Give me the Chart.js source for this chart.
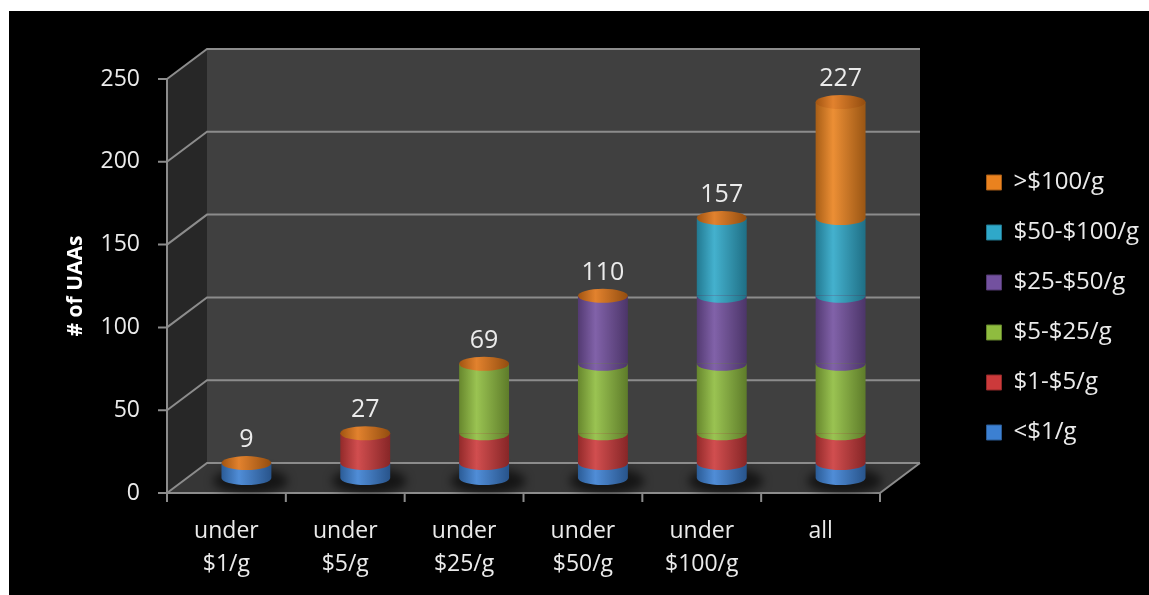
<!DOCTYPE html>
<html>
<head>
<meta charset="utf-8">
<script src="https://cdn.jsdelivr.net/npm/chart.js@4.4.0/dist/chart.umd.min.js"></script>
<style>
    html, body { margin: 0; background: #fff; }
    #wrap { position: absolute; left: 9px; top: 11px; width: 1140px; height: 584px; background: #000; }
</style>
</head>
<body>
<div id="wrap"><canvas id="uaa-chart"></canvas></div>
<script>
const categories = [['under', '$1/g'], ['under', '$5/g'], ['under', '$25/g'], ['under', '$50/g'], ['under', '$100/g'], 'all'];
const seriesNames = ['<$1/g', '$1-$5/g', '$5-$25/g', '$25-$50/g', '$50-$100/g', '>$100/g'];
const under1 = [9, 9, 9, 9, 9, 9];
const from1to5 = [0, 18, 18, 18, 18, 18];
const from5to25 = [0, 0, 42, 42, 42, 42];
const from25to50 = [0, 0, 0, 41, 41, 41];
const from50to100 = [0, 0, 0, 0, 47, 47];
const over100 = [0, 0, 0, 0, 0, 70];
const yTicks = [0, 50, 100, 150, 200, 250];
const seriesColors = ['#3c80d2', '#cc3a3b', '#8fbc3f', '#73519f', '#2fa8c9', '#ea821f'];

const seriesData = [under1, from1to5, from5to25, from25to50, from50to100, over100];
const totals = categories.map((c, i) => seriesData.reduce((s, d) => s + d[i], 0));

const FONT = "'Open Sans', sans-serif";
const TEXT = '#ebebeb';
const BAR_FRACTION = 0.42;
const DX = 40, DY = -30;        // depth of the 3d box
const RY = 7;                   // ellipse height of the cylinders
const PAD = { left: 44, right: 7, top: 9 };
const PLOT = { left: 158, right: 871, top: 68, bottom: 482 };

function shade(hex, f) {
    const n = parseInt(hex.slice(1), 16);
    const ch = [n >> 16, (n >> 8) & 255, n & 255].map(c => {
        const v = f <= 1 ? c * f : c + (255 - c) * (f - 1);
        return Math.round(Math.max(0, Math.min(255, v)));
    });
    return `rgb(${ch.join(',')})`;
}

function cylinderFill(ctx, cx, w, color) {
    const g = ctx.createLinearGradient(cx - w / 2, 0, cx + w / 2, 0);
    g.addColorStop(0, shade(color, 0.72));
    g.addColorStop(0.35, shade(color, 1.1));
    g.addColorStop(1, shade(color, 0.66));
    return g;
}

function poly(ctx, pts) {
    ctx.beginPath();
    pts.forEach(([x, y], i) => i ? ctx.lineTo(x, y) : ctx.moveTo(x, y));
    ctx.closePath();
    ctx.fill();
}

const cylinders = {
    id: 'cylinders',
    beforeDatasetsDraw(chart) {
        const { ctx } = chart;
        const xs = chart.scales.x, ys = chart.scales.y;
        const x0 = xs.left, x1 = xs.right;
        const yTop = ys.getPixelForValue(yTicks[yTicks.length - 1]);
        const yBase = ys.getPixelForValue(0);

        ctx.save();
        // walls and floor
        ctx.fillStyle = '#272727';
        poly(ctx, [[x0, yBase], [x0 + DX, yBase + DY], [x0 + DX, yTop + DY], [x0, yTop]]);
        ctx.fillStyle = '#404040';
        ctx.fillRect(x0 + DX, yTop + DY, x1 - x0, yBase - yTop);
        ctx.fillStyle = '#363636';
        poly(ctx, [[x0, yBase], [x1, yBase], [x1 + DX, yBase + DY], [x0 + DX, yBase + DY]]);

        ctx.strokeStyle = '#8c8c8c';
        ctx.lineWidth = 2;
        ctx.beginPath();
        yTicks.forEach(v => {
            const y = ys.getPixelForValue(v);
            ctx.moveTo(x0, y);
            ctx.lineTo(x0 + DX, y + DY);
            ctx.lineTo(x1 + DX, y + DY);
            ctx.moveTo(x0 - 9, y);
            ctx.lineTo(x0, y);
        });
        ctx.moveTo(x0, yTop);
        ctx.lineTo(x0, yBase);
        ctx.lineTo(x1, yBase);
        ctx.lineTo(x1 + DX, yBase + DY);
        for (let k = 0; k <= categories.length; k++) {
            const x = x0 + k * (x1 - x0) / categories.length;
            ctx.moveTo(x, yBase);
            ctx.lineTo(x, yBase + 9);
        }
        ctx.stroke();
        ctx.restore();

        // bars stand half way into the box
        ctx.save();
        ctx.translate(DX / 2, DY / 2);
        const meta = chart.getDatasetMeta(0);
        ctx.save();
        ctx.filter = 'blur(5px)';
        ctx.fillStyle = 'rgba(0,0,0,0.6)';
        meta.data.forEach(bar => {
            const { x, base, width } = bar.getProps(['x', 'base', 'width'], true);
            ctx.beginPath();
            ctx.ellipse(x + 4, base + 3, width * 0.75, 13, 0, 0, Math.PI * 2);
            ctx.fill();
        });
        ctx.restore();
    },
    afterDatasetsDraw(chart) {
        const { ctx } = chart;
        seriesData.forEach((d, di) => {
            chart.getDatasetMeta(di).data.forEach(bar => {
                const { x, y, base, width } = bar.getProps(['x', 'y', 'base', 'width'], true);
                if (Math.abs(base - y) < 0.5) return;
                ctx.fillStyle = cylinderFill(ctx, x, width, seriesColors[di]);
                ctx.beginPath();
                ctx.ellipse(x, base, width / 2, RY, 0, 0, Math.PI);
                ctx.fill();
            });
        });
        const topMeta = chart.getDatasetMeta(seriesData.length - 1);
        ctx.font = `25px ${FONT}`;
        ctx.textAlign = 'center';
        ctx.textBaseline = 'middle';
        topMeta.data.forEach((bar, i) => {
            const { x, y, width } = bar.getProps(['x', 'y', 'width'], true);
            ctx.fillStyle = cylinderFill(ctx, x, width, '#df7417');
            ctx.beginPath();
            ctx.ellipse(x, y, width / 2, RY, 0, 0, Math.PI * 2);
            ctx.fill();
            ctx.fillStyle = TEXT;
            ctx.fillText(String(totals[i]), x, y - 23);
        });
        ctx.restore();
    }
};

const blankAxis = {
    type: 'linear',
    display: true,
    grid: { display: false },
    border: { display: false },
    ticks: { display: false }
};

new Chart(document.getElementById('uaa-chart'), {
    type: 'bar',
    data: {
        labels: categories,
        datasets: seriesData.map((d, i) => ({
            label: seriesNames[i],
            data: d,
            xAxisID: 'x',
            yAxisID: 'y',
            borderWidth: 0,
            barPercentage: BAR_FRACTION,
            categoryPercentage: 1,
            backgroundColor: (c) => {
                const xs = c.chart.scales.x;
                if (c.type !== 'data' || !xs || !c.chart.chartArea) return seriesColors[i];
                const w = xs.width / categories.length * BAR_FRACTION;
                return cylinderFill(c.chart.ctx, xs.getPixelForValue(c.dataIndex), w, seriesColors[i]);
            }
        }))
    },
    options: {
        responsive: true,
        maintainAspectRatio: false,
        animation: false,
        layout: { padding: { left: PAD.left, right: PAD.right, top: PAD.top, bottom: 0 } },
        plugins: {
            tooltip: { enabled: false },
            legend: {
                position: 'right',
                reverse: true,
                labels: {
                    boxWidth: 15,
                    boxHeight: 15,
                    padding: 26,
                    font: { family: FONT, size: 24 },
                    generateLabels: (chart) => chart.data.datasets.map((ds, i) => ({
                        text: ds.label,
                        fillStyle: seriesColors[i],
                        strokeStyle: shade(seriesColors[i], 0.7),
                        lineWidth: 1,
                        fontColor: TEXT,
                        hidden: false,
                        datasetIndex: i
                    }))
                }
            }
        },
        scales: {
            x: {
                stacked: true,
                grid: { display: false, drawTicks: false },
                border: { display: false },
                ticks: {
                    color: TEXT,
                    font: { family: FONT, size: 23, lineHeight: 1.43 },
                    padding: 22,
                    maxRotation: 0,
                    autoSkip: false
                },
                afterFit: s => { s.height = s.chart.height - PLOT.bottom; }
            },
            y: {
                stacked: true,
                min: yTicks[0],
                max: yTicks[yTicks.length - 1],
                grid: { display: false, drawTicks: false },
                border: { display: false },
                ticks: {
                    stepSize: yTicks[1] - yTicks[0],
                    color: TEXT,
                    font: { family: FONT, size: 23 },
                    padding: 27
                },
                title: {
                    display: true,
                    text: '# of UAAs',
                    color: '#ffffff',
                    font: { family: FONT, size: 21, weight: 'bold' },
                    padding: { top: 10, bottom: 0 }
                },
                afterFit: s => { s.width = PLOT.left - PAD.left; }
            },
            padTop: { ...blankAxis, position: 'top', afterFit: s => { s.height = PLOT.top - PAD.top; } },
            padRight: {
                ...blankAxis,
                position: 'right',
                afterFit: s => { s.width = s.chart.width - PAD.right - PLOT.right - s.chart.legend.width; }
            }
        }
    },
    plugins: [cylinders]
});
</script>
</body>
</html>
